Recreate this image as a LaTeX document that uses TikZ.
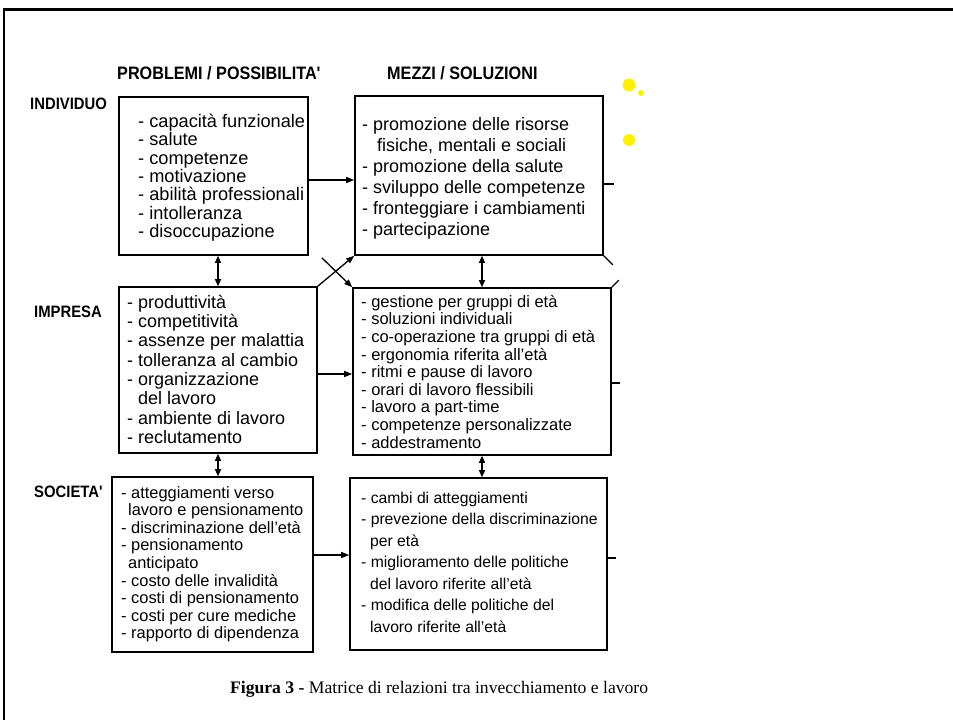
\documentclass[tikz,border=0pt]{standalone}
\usepackage{fontspec}
\setmainfont{Liberation Sans}
\newfontfamily\capfont{Liberation Serif}
\newfontfamily\labfont[FakeStretch=0.9]{Liberation Sans}
\usetikzlibrary{arrows.meta}
\begin{document}
\begin{tikzpicture}[x=1pt,y=-1pt,
  box/.style={draw, line width=1.6pt, rectangle, inner sep=0pt},
  txt/.style={anchor=north west, inner sep=0pt, align=left},
  hdr/.style={anchor=base west, inner sep=0pt, font=\labfont\bfseries\fontsize{18}{20}\selectfont},
  lab/.style={anchor=base west, inner sep=0pt, font=\labfont\bfseries\fontsize{16.5}{18}\selectfont},
  arr/.style={-{Triangle[length=8pt,width=6pt]}, line width=1.3pt},
  dbl/.style={{Triangle[length=7pt,width=6pt]}-{Triangle[length=7pt,width=6pt]}, line width=1.3pt},
  stub/.style={line width=1.3pt}]
\useasboundingbox (0,0) rectangle (953,720);
\draw[line width=2.2pt] (4,725) -- (4,9.5) -- (960,9.5);

% headers
\node[hdr] (h1) at (117,79) {PROBLEMI / POSSIBILITA'};
\node[hdr] (h2) at (387,79) {MEZZI / SOLUZIONI};
% row labels
\node[lab] (l1) at (30,109) {INDIVIDUO};
\node[lab] (l2) at (34,317) {IMPRESA};
\node[lab] (l3) at (34,497) {SOCIETA'};

% yellow dots
\fill[yellow] (629,85) circle[radius=6.5pt];
\fill[yellow] (641,93) circle[radius=3pt];
\fill[yellow] (629,140) circle[radius=6pt];

% boxes
\node[box, minimum width=189pt, minimum height=158pt] (p1) at (213.5,176) {};
\node[box, minimum width=248pt, minimum height=159pt] (p2) at (479,175.5) {};
\node[box, minimum width=198pt, minimum height=166pt] (p3) at (218,370) {};
\node[box, minimum width=258pt, minimum height=167pt] (p4) at (482,371.5) {};
\node[box, minimum width=201pt, minimum height=175pt] (p5) at (212.5,564.5) {};
\node[box, minimum width=257pt, minimum height=172pt] (p6) at (478.5,564) {};

% texts
\node[txt, font=\fontsize{18.2}{18.4}\selectfont] (t1) at (138,108.8)
  {\rule{0pt}{1em}- capacità funzionale\\- salute\\- competenze\\- motivazione\\- abilità professionali\\- intolleranza\\- disoccupazione};
\node[txt, font=\fontsize{18}{21.1}\selectfont] (t2) at (362,112)
  {\rule{0pt}{1em}- promozione delle risorse\\\hspace*{15pt}fisiche, mentali e sociali\\- promozione della salute\\- sviluppo delle competenze\\- fronteggiare i cambiamenti\\- partecipazione};
\node[txt, font=\fontsize{18}{19.3}\selectfont] (t3) at (127,290)
  {\rule{0pt}{1em}- produttività\\- competitività\\- assenze per malattia\\- tolleranza al cambio\\- organizzazione\\\hspace*{11pt}del lavoro\\- ambiente di lavoro\\- reclutamento};
\node[txt, font=\fontsize{16.5}{17.6}\selectfont] (t4) at (361,290.5)
  {\rule{0pt}{1em}- gestione per gruppi di età\\- soluzioni individuali\\- co-operazione tra gruppi di età\\- ergonomia riferita all'età\\- ritmi e pause di lavoro\\- orari di lavoro flessibili\\- lavoro a part-time\\- competenze personalizzate\\- addestramento};
\node[txt, font=\fontsize{16.4}{17.6}\selectfont] (t5) at (121,481.5)
  {\rule{0pt}{1em}- atteggiamenti verso\\\hspace*{7pt}lavoro e pensionamento\\- discriminazione dell'età\\- pensionamento\\\hspace*{7pt}anticipato\\- costo delle invalidità\\- costi di pensionamento\\- costi per cure mediche\\- rapporto di dipendenza};
\node[txt, font=\fontsize{15.7}{21.5}\selectfont] (t6) at (361,487.5)
  {\rule{0pt}{1em}- cambi di atteggiamenti\\- prevezione della discriminazione\\\hspace*{9pt}per età\\- miglioramento delle politiche\\\hspace*{9pt}del lavoro riferite all'età\\- modifica delle politiche del\\\hspace*{9pt}lavoro riferite all'età};

% horizontal arrows
\draw[arr] ([yshift=-4pt]p1.east) -- ([yshift=-4pt]p1.east -| p2.west);
\draw[arr] ([yshift=-4pt]p3.east) -- ([yshift=-4pt]p3.east -| p4.west);
\draw[arr] ([yshift=9.5pt]p5.east) -- ([yshift=9.5pt]p5.east -| p6.west);

% vertical double arrows
\draw[dbl] (p3.north |- p1.south) -- (p3.north);
\draw[dbl] (p3.south) -- (p3.south |- p5.north);
\draw[dbl] (p4.north |- p2.south) -- (p4.north);
\draw[dbl] (p4.south) -- (p4.south |- p6.north);

% crossing arrows
\draw[arr] (p3.north east) -- (p2.south west);
\coordinate (xs) at ([xshift=13pt,yshift=-2pt]p1.south east);
\draw[arr] (xs) -- (p4.north west);

% right partial connectors
\draw[stub] (p2.south east) -- ++(9,9);
\draw[stub] (p4.north east) -- ++(7,-7);
\draw[stub] ([yshift=-8.5pt]p2.east) -- ++(10,0);
\draw[stub] ([yshift=-11.5pt]p4.east) -- ++(8,0);
\draw[stub] ([yshift=6pt]p6.east) -- ++(8,0);

% caption
\node[anchor=base west, inner sep=0pt, font=\capfont\fontsize{17.6}{20}\selectfont] (cap) at (230,693)
  {\textbf{Figura 3 -} Matrice di relazioni tra invecchiamento e lavoro};
\end{tikzpicture}
\end{document}
